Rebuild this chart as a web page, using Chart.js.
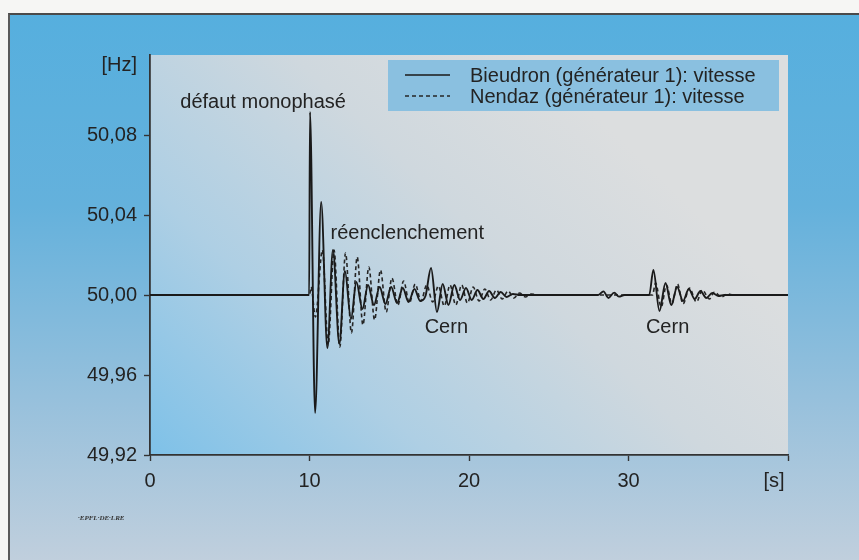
<!DOCTYPE html>
<html>
<head>
<meta charset="utf-8">
<script src="https://cdn.jsdelivr.net/npm/chart.js@4/dist/chart.umd.min.js"></script>
<style>
  html, body { margin: 0; padding: 0; background: #f6f6f4; }
  #wrap { position: relative; width: 859px; height: 560px; overflow: hidden; }
  #panel {
    position: absolute; left: 8px; top: 13px; right: 0; bottom: 0;
    border-top: 2px solid #4a4a4a; border-left: 2px solid #5a5a5a;
    background: linear-gradient(to bottom, rgb(86,175,222) 0%, rgb(100,177,220) 35%, rgb(150,192,220) 70%, rgb(192,207,221) 100%);
  }
  #chart { position: absolute; left: 0; top: 0; }
</style>
</head>
<body>
<div id="wrap">
  <div id="panel"></div>
  <canvas id="chart" width="859" height="560"></canvas>
</div>
<script>
// ---------- Data ----------
// Bieudron (générateur 1): vitesse  -- time [s] / frequency [Hz]
const timeBieudron = [
  0, 9.98, 10.03, 10.35, 10.73, 11.12, 11.47, 11.87, 12.22, 12.60,
  12.94, 13.32, 13.67, 14.04, 14.40, 14.76, 15.12, 15.49, 15.85, 16.21,
  16.58, 16.94, 17.27, 17.62, 17.99, 18.35, 18.71, 19.08, 19.44, 19.81,
  20.17, 20.53, 20.90, 21.26, 21.62, 21.99, 22.35, 22.75, 23.2, 28.1,
  28.43, 28.74, 29.1, 29.4, 29.75, 31.3, 31.56, 31.94, 32.32, 32.68,
  33.05, 33.42, 33.78, 34.15, 34.51, 34.88, 35.25, 35.65, 36.0, 40
];
const freqBieudron = [
  50.000, 50.000, 50.0915, 49.941, 50.0465, 49.9735, 50.0225, 49.9755, 50.012, 49.988,
  50.0065, 49.993, 50.005, 49.995, 50.004, 49.9955, 50.004, 49.996, 50.0035, 49.9965,
  50.003, 49.997, 49.9995, 50.0135, 49.9915, 50.0055, 49.995, 50.005, 49.9975, 50.0035,
  49.9975, 50.0025, 49.998, 50.002, 49.9985, 50.0015, 49.999, 50.0005, 50.000, 50.000,
  50.0018, 49.9985, 50.0012, 49.9992, 50.000, 50.000, 50.0125, 49.992, 50.006, 49.995,
  50.004, 49.997, 50.003, 49.998, 50.002, 49.9985, 50.001, 49.9995, 50.000, 50.000
];

// Nendaz (générateur 1): vitesse
const timeNendaz = [
  0, 10.0, 10.1, 10.37, 10.81, 11.17, 11.54, 11.90, 12.26, 12.63,
  12.99, 13.35, 13.72, 14.08, 14.45, 14.81, 15.17, 15.54, 15.90, 16.26,
  16.63, 16.99, 17.35, 17.72, 18.08, 18.45, 18.81, 19.17, 19.54, 19.90,
  20.26, 20.63, 20.99, 21.36, 21.72, 22.08, 22.45, 22.81, 23.17, 23.54,
  23.9, 24.4, 31.5, 31.7, 32.05, 32.38, 32.72, 33.07, 33.42, 33.82,
  34.26, 34.63, 35.07, 35.39, 35.82, 36.2, 36.6, 40
];
const freqNendaz = [
  50.000, 50.000, 50.004, 49.989, 50.0225, 49.975, 50.0225, 49.974, 50.021, 49.981,
  50.019, 49.985, 50.014, 49.9875, 50.0125, 49.9915, 50.0085, 49.995, 50.007, 49.996,
  50.0055, 49.997, 50.005, 49.9965, 50.0045, 49.9945, 50.005, 49.995, 50.005, 49.996,
  50.004, 49.997, 50.003, 49.9975, 50.0025, 49.998, 50.002, 49.9985, 50.001, 49.999,
  50.0005, 50.000, 50.000, 50.006, 49.994, 50.005, 49.9955, 50.0055, 49.9955, 50.0035,
  49.9965, 50.0025, 49.998, 50.0015, 49.999, 50.0005, 50.000, 50.000
];

const seriesLabels = ['Bieudron (générateur 1): vitesse', 'Nendaz (générateur 1): vitesse'];

// axis ticks
const xTicks = [0, 10, 20, 30];
const yTicks = [49.92, 49.96, 50.00, 50.04, 50.08];

// event notes (data coordinates)
const notes = [
  { text: 'défaut monophasé', t: 1.9, v: 50.0965, align: 'left' },
  { text: 'réenclenchement', t: 11.32, v: 50.031, align: 'left' },
  { text: 'Cern', t: 18.58, v: 49.984, align: 'center' },
  { text: 'Cern', t: 32.45, v: 49.984, align: 'center' }
];

// ---------- Helpers ----------
const FONT = '"Liberation Sans", Arial, Helvetica, sans-serif';
const INK = '#232323';
const toPoints = (ts, vs) => ts.map((t, i) => ({ x: t, y: vs[i] }));
const fmtHz = (v) => v.toFixed(2).replace('.', ',');

// ---------- Decor plugin ----------
const decor = {
  id: 'decor',
  beforeDraw(chart) {
    const { ctx, chartArea: a } = chart;
    const g = ctx.createLinearGradient(a.left, a.bottom, a.left + a.width * 0.6, a.top);
    g.addColorStop(0, 'rgb(126,193,232)');
    g.addColorStop(0.35, 'rgb(174,207,228)');
    g.addColorStop(0.7, 'rgb(207,216,222)');
    g.addColorStop(1, 'rgb(220,222,223)');
    ctx.save();
    ctx.fillStyle = g;
    ctx.fillRect(a.left, a.top, a.width, a.height);
    ctx.restore();
  },
  afterDraw(chart) {
    const { ctx, scales } = chart;
    const xs = scales.x, ys = scales.y;
    ctx.save();

    // legend box
    ctx.fillStyle = 'rgb(138,192,224)';
    ctx.fillRect(388, 60, 391, 51);
    chart.data.datasets.forEach((ds, i) => {
      const y = 75 + i * 21;
      ctx.strokeStyle = ds.borderColor;
      ctx.lineWidth = 1.5;
      ctx.setLineDash(ds.borderDash || []);
      ctx.beginPath();
      ctx.moveTo(405, y);
      ctx.lineTo(450, y);
      ctx.stroke();
      ctx.setLineDash([]);
      ctx.fillStyle = INK;
      ctx.font = '20px ' + FONT;
      ctx.textAlign = 'left';
      ctx.textBaseline = 'middle';
      ctx.fillText(ds.label, 470, y + 1);
    });

    // event notes
    ctx.fillStyle = INK;
    ctx.font = '20px ' + FONT;
    ctx.textBaseline = 'middle';
    notes.forEach((n) => {
      ctx.textAlign = n.align;
      ctx.fillText(n.text, xs.getPixelForValue(n.t), ys.getPixelForValue(n.v));
    });

    // units
    ctx.textAlign = 'right';
    ctx.fillText('[Hz]', ys.left + ys.width - 13, ys.top + 10);
    ctx.textAlign = 'center';
    ctx.fillText('[s]', xs.right - 14, xs.top + 26);

    // credit
    ctx.font = 'italic bold 7px "Liberation Serif", "DejaVu Serif", serif';
    ctx.textAlign = 'left';
    ctx.fillStyle = '#333';
    ctx.fillText('·EPFL·DE·LRE', 78, 518);
    ctx.restore();
  }
};

// ---------- Chart ----------
Chart.defaults.font.family = FONT;
Chart.defaults.color = INK;

new Chart(document.getElementById('chart').getContext('2d'), {
  type: 'line',
  data: {
    datasets: [
      {
        label: seriesLabels[0],
        data: toPoints(timeBieudron, freqBieudron),
        borderColor: '#1a1a1a',
        borderWidth: 1.9,
        pointRadius: 0,
        cubicInterpolationMode: 'monotone',
        fill: false
      },
      {
        label: seriesLabels[1],
        data: toPoints(timeNendaz, freqNendaz),
        borderColor: '#262626',
        borderWidth: 1.6,
        borderDash: [4, 3],
        pointRadius: 0,
        cubicInterpolationMode: 'monotone',
        fill: false
      }
    ]
  },
  options: {
    responsive: false,
    animation: false,
    events: [],
    layout: { padding: { top: 55, right: 71, left: 0, bottom: 0 } },
    plugins: { legend: { display: false }, tooltip: { enabled: false } },
    scales: {
      x: {
        type: 'linear',
        min: 0,
        max: 40,
        afterFit: (s) => { s.height = 105; },
        afterBuildTicks: (s) => { s.ticks = xTicks.concat([40]).map((v) => ({ value: v })); },
        ticks: {
          font: { size: 20 },
          color: INK,
          padding: 8,
          maxRotation: 0,
          callback: (v) => (xTicks.includes(v) ? String(v) : '')
        },
        grid: { drawOnChartArea: false, color: '#333', tickLength: 6, tickWidth: 1.4 },
        border: { display: true, color: '#333', width: 1.8 }
      },
      y: {
        min: 49.92,
        max: 50.12,
        afterFit: (s) => { s.width = 150; },
        afterBuildTicks: (s) => { s.ticks = yTicks.map((v) => ({ value: v })); },
        ticks: {
          font: { size: 20 },
          color: INK,
          padding: 7,
          callback: (v) => fmtHz(v)
        },
        grid: { drawOnChartArea: false, color: '#333', tickLength: 6, tickWidth: 1.4 },
        border: { display: true, color: '#333', width: 1.8 }
      }
    }
  },
  plugins: [decor]
});
</script>
</body>
</html>
